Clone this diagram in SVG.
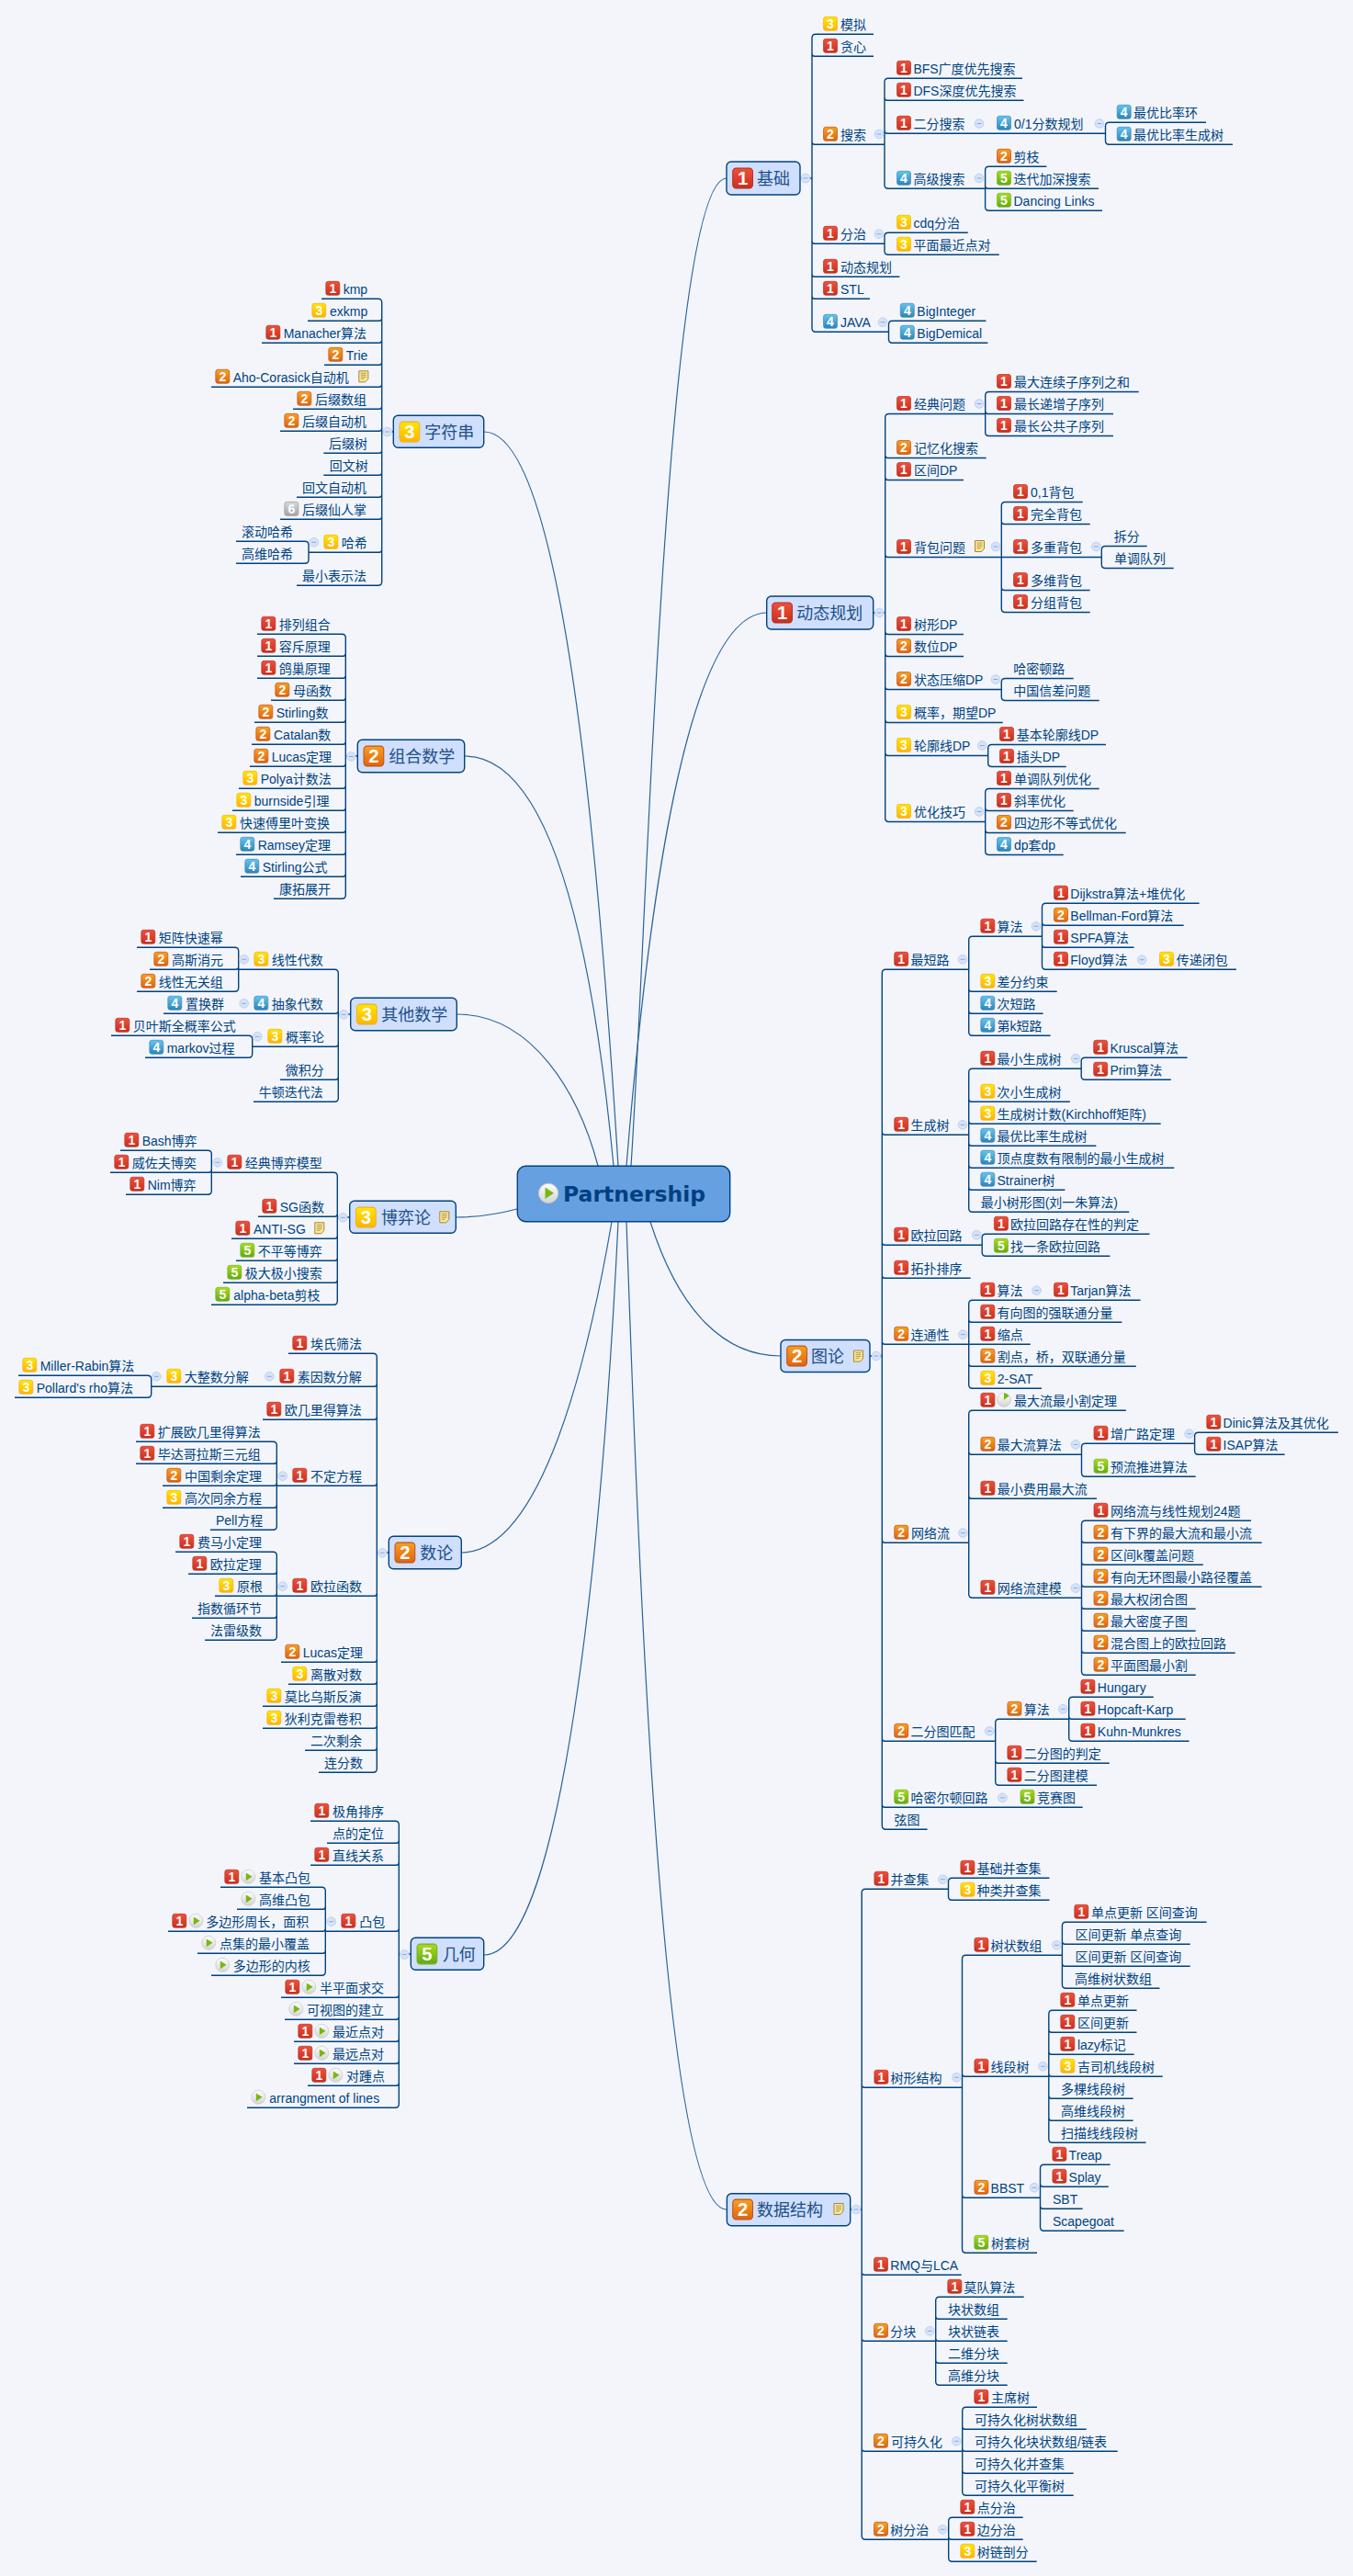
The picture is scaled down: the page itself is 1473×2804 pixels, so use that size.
<svg xmlns="http://www.w3.org/2000/svg" width="1473" height="2804" viewBox="0 0 1473 2804">
<style>
text{font-family:"Liberation Sans","Noto Sans CJK SC",sans-serif;font-size:14px;fill:#00437f}
.h{font-size:18px;fill:#1d5088}
.root{font-family:"DejaVu Sans",sans-serif;font-size:23.5px;font-weight:700;fill:#004080}
.d{font-size:14px;font-weight:700;fill:#fff;text-anchor:middle}
.t{fill:#d0dffd;stroke:#00437f;stroke-width:1.4}
.l{fill:none;stroke:#00437f;stroke-width:1.4}
.k{fill:none;stroke:#2a6398;stroke-width:1.2}
</style>
<defs>
<linearGradient id="g1" x1="0" y1="0" x2="0" y2="1"><stop offset="0" stop-color="#f0503c"/><stop offset="1" stop-color="#c8301f"/></linearGradient>
<linearGradient id="g2" x1="0" y1="0" x2="0" y2="1"><stop offset="0" stop-color="#f8a020"/><stop offset="1" stop-color="#e0640f"/></linearGradient>
<linearGradient id="g3" x1="0" y1="0" x2="0" y2="1"><stop offset="0" stop-color="#ffe600"/><stop offset="1" stop-color="#ffb400"/></linearGradient>
<linearGradient id="g4" x1="0" y1="0" x2="0" y2="1"><stop offset="0" stop-color="#66c4ee"/><stop offset="1" stop-color="#2d84b6"/></linearGradient>
<linearGradient id="g5" x1="0" y1="0" x2="0" y2="1"><stop offset="0" stop-color="#a8dc20"/><stop offset="1" stop-color="#62aa10"/></linearGradient>
<linearGradient id="g6" x1="0" y1="0" x2="0" y2="1"><stop offset="0" stop-color="#d8d8d8"/><stop offset="1" stop-color="#a4a4a4"/></linearGradient>
<linearGradient id="gy" x1="0" y1="0" x2="0" y2="1"><stop offset="0" stop-color="#fdfdfd"/><stop offset="1" stop-color="#d4d4d4"/></linearGradient>
<g id="p1"><rect x=".5" y=".5" width="15" height="15" rx="2.5" fill="url(#g1)" stroke="#b83020" stroke-width=".7"/><text x="8" y="13" class="d">1</text></g>
<g id="p2"><rect x=".5" y=".5" width="15" height="15" rx="2.5" fill="url(#g2)" stroke="#c05018" stroke-width=".7"/><text x="8" y="13" class="d">2</text></g>
<g id="p3"><rect x=".5" y=".5" width="15" height="15" rx="2.5" fill="url(#g3)" stroke="#f0b020" stroke-width=".7"/><text x="8" y="13" class="d">3</text></g>
<g id="p4"><rect x=".5" y=".5" width="15" height="15" rx="2.5" fill="url(#g4)" stroke="#3a8cc0" stroke-width=".7"/><text x="8" y="13" class="d">4</text></g>
<g id="p5"><rect x=".5" y=".5" width="15" height="15" rx="2.5" fill="url(#g5)" stroke="#78b020" stroke-width=".7"/><text x="8" y="13" class="d">5</text></g>
<g id="p6"><rect x=".5" y=".5" width="15" height="15" rx="2.5" fill="url(#g6)" stroke="#989898" stroke-width=".7"/><text x="8" y="13" class="d">6</text></g>
<g id="y"><circle cx="8" cy="8" r="7.5" fill="url(#gy)" stroke="#c4c4c4" stroke-width=".7"/><path d="M5.5 3.6L12.2 8L5.5 12.4Z" fill="#76b80e"/></g>
<g id="q"><circle cx="8" cy="8" r="7.5" fill="url(#gy)" stroke="#c4c4c4" stroke-width=".7"/><path d="M8 8V.8A7.2 7.2 0 0 1 13.6 3.6Z" fill="#76b80e"/></g>
<g id="m"><path d="M.5 .5H10.5V9L7.5 12.5H.5Z" fill="#f8e9a0" stroke="#a8862c"/><path d="M2.5 3H8.5M2.5 5H8.5M2.5 7H8.5M2.5 9H6.5" stroke="#a8862c" stroke-width=".8" fill="none"/></g>
<g id="c"><circle r="4.8" fill="#d6e3fa" stroke="#bcd0f0"/><path d="M-2.4 0H2.4" stroke="#8ea8d0" stroke-width="1"/></g>
</defs>
<rect width="1473" height="2804" fill="#f3f5fb"/>
<g id="connectors">
<path class="k" d="M687 1269C705 1000 725 194 791 194"/>
<path class="k" d="M682 1269C700 1050 740 667 835 667"/>
<path class="k" d="M708 1330C740 1430 790 1476 850 1476"/>
<path class="k" d="M682 1330C695 1700 720 2405 791 2405"/>
<path class="k" d="M673 1269C650 900 610 470 527 470"/>
<path class="k" d="M668 1269C650 1080 610 823 506 823"/>
<path class="k" d="M651 1269C630 1190 580 1104 497 1104"/>
<path class="k" d="M563 1316C540 1322 520 1325 496 1325"/>
<path class="k" d="M666 1330C640 1480 590 1690 502 1690"/>
<path class="k" d="M673 1330C660 1600 620 2128 527 2128"/>
<path class="l" d="M871 194H884M950.7 667H963.7M947 1476H960.3M925.7 2405H938.2M428.3 470H415.7M389.3 823H376.3M381.7 1104H368.3M380.7 1325H367.3M423.3 1690H410.3M447.3 2127H434.3"/>
<path class="l" d="M951 37.3H888q-4 0-4 4V357.3q0 4 4 4H967.5M884 58.3q0 3 3 3H951M884 154.3q0 3 3 3H963M884 262.3q0 3 3 3H963M884 298.3q0 3 3 3H979.4M884 322.3q0 3 3 3H947"/>
<path class="l" d="M1113 85.3H967q-4 0-4 4V201.3q0 4 4 4H1072.6M963 106.3q0 3 3 3H1114.5M963 142.3q0 3 3 3H1203.5"/>
<path class="l" d="M1313 133.3H1207.5q-4 0-4 4V153.3q0 4 4 4H1342"/>
<path class="l" d="M1139.4 181.3H1076.6q-4 0-4 4V225.3q0 4 4 4H1200M1072.6 202.3q0 3 3 3H1196"/>
<path class="l" d="M1053.7 253.3H967q-4 0-4 4V273.3q0 4 4 4H1087.7"/>
<path class="l" d="M1073.4 349.3H971.5q-4 0-4 4V369.3q0 4 4 4H1075.4"/>
<path class="l" d="M1072.7 450.5H967.7q-4 0-4 4V890.5q0 4 4 4H1072.7M963.7 495.5q0 3 3 3H1073.7M963.7 519.5q0 3 3 3H1049M963.7 603.5q0 3 3 3H1199.3M963.7 687.5q0 3 3 3H1049M963.7 711.5q0 3 3 3H1049M963.7 747.5q0 3 3 3H1090.3M963.7 783.5q0 3 3 3H1091.7M963.7 819.5q0 3 3 3H1075.7"/>
<path class="l" d="M1239.7 426.5H1076.7q-4 0-4 4V470.5q0 4 4 4H1212M1072.7 447.5q0 3 3 3H1212"/>
<path class="l" d="M1178.7 546.5H1094.3q-4 0-4 4V662.5q0 4 4 4H1186.7M1090.3 567.5q0 3 3 3H1186.7M1090.3 639.5q0 3 3 3H1186.7"/>
<path class="l" d="M1248.7 594.5H1203.3q-4 0-4 4V614.5q0 4 4 4H1277.7"/>
<path class="l" d="M1168.7 738.5H1094.3q-4 0-4 4V758.5q0 4 4 4H1196.7"/>
<path class="l" d="M1204 810.5H1079.7q-4 0-4 4V830.5q0 4 4 4H1160.7"/>
<path class="l" d="M1196.7 858.5H1076.7q-4 0-4 4V926.5q0 4 4 4H1157.7M1072.7 879.5q0 3 3 3H1168.7M1072.7 903.5q0 3 3 3H1225.7"/>
<path class="l" d="M1054.7 1055.3H964.3q-4 0-4 4V1987.3q0 4 4 4H1009.6M960.3 1232.3q0 3 3 3H1054.7M960.3 1352.3q0 3 3 3H1069.2M960.3 1388.3q0 3 3 3H1056.6M960.3 1460.3q0 3 3 3H1121.8M960.3 1676.3q0 3 3 3H1054.7M960.3 1892.3q0 3 3 3H1083.7M960.3 1964.3q0 3 3 3H1178.6"/>
<path class="l" d="M1134.5 1019.3H1058.7q-4 0-4 4V1123.3q0 4 4 4H1143.6M1054.7 1076.3q0 3 3 3H1150.7M1054.7 1100.3q0 3 3 3H1135.6"/>
<path class="l" d="M1305.6 983.3H1138.5q-4 0-4 4V1051.3q0 4 4 4H1346M1134.5 1004.3q0 3 3 3H1288.6M1134.5 1028.3q0 3 3 3H1234.5"/>
<path class="l" d="M1177.2 1163.3H1058.7q-4 0-4 4V1315.3q0 4 4 4H1229.3M1054.7 1196.3q0 3 3 3H1164.9M1054.7 1220.3q0 3 3 3H1263.7M1054.7 1244.3q0 3 3 3H1193.4M1054.7 1268.3q0 3 3 3H1278.3M1054.7 1292.3q0 3 3 3H1159.4"/>
<path class="l" d="M1292.6 1151.3H1181.2q-4 0-4 4V1171.3q0 4 4 4H1274.8"/>
<path class="l" d="M1251.5 1343.3H1073.2q-4 0-4 4V1363.3q0 4 4 4H1208.4"/>
<path class="l" d="M1241.6 1415.3H1058.7q-4 0-4 4V1507.3q0 4 4 4H1134M1054.7 1436.3q0 3 3 3H1221.4M1054.7 1484.3q0 3 3 3H1236.8"/>
<path class="l" d="M1225.8 1535.3H1058.7q-4 0-4 4V1735.3q0 4 4 4H1177.5M1054.7 1580.3q0 3 3 3H1177.5M1054.7 1628.3q0 3 3 3H1194"/>
<path class="l" d="M1300.6 1571.3H1181.5q-4 0-4 4V1603.3q0 4 4 4H1301.7"/>
<path class="l" d="M1456.9 1559.3H1304.6q-4 0-4 4V1579.3q0 4 4 4H1398.7"/>
<path class="l" d="M1362 1655.3H1181.5q-4 0-4 4V1819.3q0 4 4 4H1301.7M1177.5 1676.3q0 3 3 3H1373.6M1177.5 1700.3q0 3 3 3H1309.8M1177.5 1724.3q0 3 3 3H1373.6M1177.5 1748.3q0 3 3 3H1301.7M1177.5 1772.3q0 3 3 3H1301.7M1177.5 1796.3q0 3 3 3H1344.7"/>
<path class="l" d="M1163.7 1871.3H1087.7q-4 0-4 4V1939.3q0 4 4 4H1194M1083.7 1916.3q0 3 3 3H1207.8"/>
<path class="l" d="M1255.8 1847.3H1167.7q-4 0-4 4V1891.3q0 4 4 4H1294.6M1163.7 1868.3q0 3 3 3H1290.7"/>
<path class="l" d="M1032.5 2056.3H942.2q-4 0-4 4V2760.3q0 4 4 4H1032.7M938.2 2269.3q0 3 3 3H1047.5M938.2 2473.3q0 3 3 3H1046.7M938.2 2545.3q0 3 3 3H1018.7M938.2 2665.3q0 3 3 3H1047.7"/>
<path class="l" d="M1142.5 2044.3H1036.5q-4 0-4 4V2064.3q0 4 4 4H1142.5"/>
<path class="l" d="M1156.4 2128.3H1051.5q-4 0-4 4V2448.3q0 4 4 4H1129M1047.5 2257.3q0 3 3 3H1141.8M1047.5 2389.3q0 3 3 3H1132.5"/>
<path class="l" d="M1313.6 2092.3H1160.4q-4 0-4 4V2160.3q0 4 4 4H1262.5M1156.4 2113.3q0 3 3 3H1295.7M1156.4 2137.3q0 3 3 3H1295.7"/>
<path class="l" d="M1237.5 2188.3H1145.8q-4 0-4 4V2328.3q0 4 4 4H1247.5M1141.8 2209.3q0 3 3 3H1237.5M1141.8 2233.3q0 3 3 3H1234.6M1141.8 2257.3q0 3 3 3H1265.7M1141.8 2281.3q0 3 3 3H1233.6M1141.8 2305.3q0 3 3 3H1233.6"/>
<path class="l" d="M1208.6 2356.3H1136.5q-4 0-4 4V2424.3q0 4 4 4H1223.6M1132.5 2377.3q0 3 3 3H1206.8M1132.5 2401.3q0 3 3 3H1178.6"/>
<path class="l" d="M1114.7 2500.3H1022.7q-4 0-4 4V2592.3q0 4 4 4H1096.7M1018.7 2521.3q0 3 3 3H1096.7M1018.7 2545.3q0 3 3 3H1096.7M1018.7 2569.3q0 3 3 3H1096.7"/>
<path class="l" d="M1129 2620.3H1051.7q-4 0-4 4V2712.3q0 4 4 4H1168.7M1047.7 2641.3q0 3 3 3H1182.7M1047.7 2665.3q0 3 3 3H1216.7M1047.7 2689.3q0 3 3 3H1168.7"/>
<path class="l" d="M1113.7 2740.3H1036.7q-4 0-4 4V2784.3q0 4 4 4H1128.7M1032.7 2761.3q0 3 3 3H1113.7"/>
<path class="l" d="M350 325.3H411.7q4 0 4 4V633.3q0 4-4 4H323M415.7 346.3q0 3-3 3H335M415.7 370.3q0 3-3 3H285M415.7 394.3q0 3-3 3H353M415.7 418.3q0 3-3 3H230M415.7 442.3q0 3-3 3H319M415.7 466.3q0 3-3 3H305M415.7 490.3q0 3-3 3H352.3M415.7 514.3q0 3-3 3H352.3M415.7 538.3q0 3-3 3H323M415.7 562.3q0 3-3 3H305M415.7 598.3q0 3-3 3H336"/>
<path class="l" d="M257 589.3H332q4 0 4 4V609.3q0 4-4 4H257"/>
<path class="l" d="M280 690.3H372.3q4 0 4 4V974.3q0 4-4 4H298M376.3 711.3q0 3-3 3H280M376.3 735.3q0 3-3 3H280M376.3 759.3q0 3-3 3H295M376.3 783.3q0 3-3 3H277M376.3 807.3q0 3-3 3H274M376.3 831.3q0 3-3 3H272M376.3 855.3q0 3-3 3H260M376.3 879.3q0 3-3 3H253M376.3 903.3q0 3-3 3H237M376.3 927.3q0 3-3 3H257M376.3 951.3q0 3-3 3H262"/>
<path class="l" d="M259.7 1055.3H364.3q4 0 4 4V1195.3q0 4-4 4H276M368.3 1100.3q0 3-3 3H178M368.3 1136.3q0 3-3 3H274.7M368.3 1172.3q0 3-3 3H305"/>
<path class="l" d="M149 1031.3H255.7q4 0 4 4V1075.3q0 4-4 4H149M259.7 1052.3q0 3-3 3H163"/>
<path class="l" d="M121 1127.3H270.7q4 0 4 4V1147.3q0 4-4 4H158"/>
<path class="l" d="M230.3 1276.3H363.3q4 0 4 4V1416.3q0 4-4 4H230M367.3 1321.3q0 3-3 3H281M367.3 1345.3q0 3-3 3H252M367.3 1369.3q0 3-3 3H257M367.3 1393.3q0 3-3 3H243"/>
<path class="l" d="M131 1252.3H226.3q4 0 4 4V1296.3q0 4-4 4H137M230.3 1273.3q0 3-3 3H120"/>
<path class="l" d="M314 1473.3H406.3q4 0 4 4V1925.3q0 4-4 4H347M410.3 1506.3q0 3-3 3H164.7M410.3 1542.3q0 3-3 3H286M410.3 1614.3q0 3-3 3H301.3M410.3 1734.3q0 3-3 3H301.3M410.3 1806.3q0 3-3 3H306M410.3 1830.3q0 3-3 3H314M410.3 1854.3q0 3-3 3H286M410.3 1878.3q0 3-3 3H286M410.3 1902.3q0 3-3 3H332"/>
<path class="l" d="M20 1497.3H160.7q4 0 4 4V1517.3q0 4-4 4H16"/>
<path class="l" d="M148 1569.3H297.3q4 0 4 4V1661.3q0 4-4 4H229M301.3 1590.3q0 3-3 3H148M301.3 1614.3q0 3-3 3H177M301.3 1638.3q0 3-3 3H177"/>
<path class="l" d="M191 1689.3H297.3q4 0 4 4V1781.3q0 4-4 4H223M301.3 1710.3q0 3-3 3H205M301.3 1734.3q0 3-3 3H234M301.3 1758.3q0 3-3 3H209"/>
<path class="l" d="M338 1982.3H430.3q4 0 4 4V2290.3q0 4-4 4H269M434.3 2003.3q0 3-3 3H356M434.3 2027.3q0 3-3 3H338M434.3 2099.3q0 3-3 3H354.3M434.3 2171.3q0 3-3 3H306M434.3 2195.3q0 3-3 3H310M434.3 2219.3q0 3-3 3H320M434.3 2243.3q0 3-3 3H320M434.3 2267.3q0 3-3 3H335"/>
<path class="l" d="M240 2054.3H350.3q4 0 4 4V2146.3q0 4-4 4H230M354.3 2075.3q0 3-3 3H258M354.3 2099.3q0 3-3 3H183M354.3 2123.3q0 3-3 3H215"/>
</g>
<g id="root"><rect x="563.3" y="1269.3" width="231.4" height="60.4" rx="9" fill="#66a0e0" stroke="#00437f" stroke-width="1.4"/><use href="#y" transform="translate(585.7 1287.5) scale(1.42)"/><text class="root" x="613" y="1307.5">Partnership</text></g>
<g id="jichu">
<g id="t1"><rect class="t" x="791" y="176" width="80" height="36" rx="5"/><use href="#p1" transform="translate(797 182.4) scale(1.45)"/><text class="h" x="824" y="200.5">基础</text><use href="#c" x="877" y="194"/></g>
<g id="a1"><use href="#p3" x="896" y="17.8"/><text x="915" y="31.8">模拟</text></g>
<g id="a2"><use href="#p1" x="896" y="41.8"/><text x="915" y="55.8">贪心</text></g>
<g id="a3"><use href="#p2" x="896" y="137.8"/><text x="915" y="151.8">搜索</text><use href="#c" x="957" y="146"/></g>
<g id="a4"><use href="#p1" x="976" y="65.8"/><text x="994.4" y="79.8">BFS广度优先搜索</text></g>
<g id="a5"><use href="#p1" x="976" y="89.8"/><text x="994.4" y="103.8">DFS深度优先搜索</text></g>
<g id="a6"><use href="#p1" x="976" y="125.8"/><text x="994.4" y="139.8">二分搜索</text><use href="#c" x="1066" y="134.5"/></g>
<g id="a7"><use href="#p4" x="1085" y="125.8"/><text x="1104" y="139.8">0/1分数规划</text><use href="#c" x="1197" y="134.5"/></g>
<g id="a8"><use href="#p4" x="1215.7" y="113.8"/><text x="1234" y="127.8">最优比率环</text></g>
<g id="a9"><use href="#p4" x="1215.7" y="137.8"/><text x="1234" y="151.8">最优比率生成树</text></g>
<g id="a10"><use href="#p4" x="976" y="185.8"/><text x="994.4" y="199.8">高级搜索</text><use href="#c" x="1066" y="194"/></g>
<g id="a11"><use href="#p2" x="1085" y="161.8"/><text x="1103.5" y="175.8">剪枝</text></g>
<g id="a12"><use href="#p5" x="1085" y="185.8"/><text x="1103.5" y="199.8">迭代加深搜索</text></g>
<g id="a13"><use href="#p5" x="1085" y="209.8"/><text x="1103.5" y="223.8">Dancing Links</text></g>
<g id="a14"><use href="#p1" x="896" y="245.8"/><text x="915" y="259.8">分治</text><use href="#c" x="957" y="254.7"/></g>
<g id="a15"><use href="#p3" x="976" y="233.8"/><text x="994.4" y="247.8">cdq分治</text></g>
<g id="a16"><use href="#p3" x="976" y="257.8"/><text x="994.4" y="271.8">平面最近点对</text></g>
<g id="a17"><use href="#p1" x="896" y="281.8"/><text x="915" y="295.8">动态规划</text></g>
<g id="a18"><use href="#p1" x="896" y="305.8"/><text x="915" y="319.8">STL</text></g>
<g id="a19"><use href="#p4" x="896" y="341.8"/><text x="915" y="355.8">JAVA</text><use href="#c" x="961" y="350.7"/></g>
<g id="a20"><use href="#p4" x="979.8" y="329.8"/><text x="998.3" y="343.8">BigInteger</text></g>
<g id="a21"><use href="#p4" x="979.8" y="353.8"/><text x="998.3" y="367.8">BigDemical</text></g>
</g>
<g id="dp">
<g id="t2"><rect class="t" x="834.7" y="649" width="116" height="36" rx="5"/><use href="#p1" transform="translate(840 655.4) scale(1.45)"/><text class="h" x="867.3" y="673.5">动态规划</text><use href="#c" x="957.3" y="667"/></g>
<g id="b1"><use href="#p1" x="976" y="431"/><text x="995" y="445">经典问题</text><use href="#c" x="1066" y="439.5"/></g>
<g id="b2"><use href="#p1" x="1085" y="407"/><text x="1104" y="421">最大连续子序列之和</text></g>
<g id="b3"><use href="#p1" x="1085" y="431"/><text x="1104" y="445">最长递增子序列</text></g>
<g id="b4"><use href="#p1" x="1085" y="455"/><text x="1104" y="469">最长公共子序列</text></g>
<g id="b5"><use href="#p2" x="976" y="479"/><text x="995" y="493">记忆化搜索</text></g>
<g id="b6"><use href="#p1" x="976" y="503"/><text x="995" y="517">区间DP</text></g>
<g id="b7"><use href="#p1" x="976" y="587"/><text x="995" y="601">背包问题</text><use href="#m" x="1061" y="588"/><use href="#c" x="1084" y="595"/></g>
<g id="b8"><use href="#p1" x="1103" y="527"/><text x="1122" y="541">0,1背包</text></g>
<g id="b9"><use href="#p1" x="1103" y="551"/><text x="1122" y="565">完全背包</text></g>
<g id="b10"><use href="#p1" x="1103" y="587"/><text x="1122" y="601">多重背包</text><use href="#c" x="1193.3" y="595"/></g>
<g id="b11"><text x="1212.7" y="589">拆分</text></g>
<g id="b12"><text x="1213" y="613">单调队列</text></g>
<g id="b13"><use href="#p1" x="1103" y="623"/><text x="1122" y="637">多维背包</text></g>
<g id="b14"><use href="#p1" x="1103" y="647"/><text x="1122" y="661">分组背包</text></g>
<g id="b15"><use href="#p1" x="976" y="671"/><text x="995" y="685">树形DP</text></g>
<g id="b16"><use href="#p2" x="976" y="695"/><text x="995" y="709">数位DP</text></g>
<g id="b17"><use href="#p2" x="976" y="731"/><text x="995" y="745">状态压缩DP</text><use href="#c" x="1084" y="739.5"/></g>
<g id="b18"><text x="1103.3" y="733">哈密顿路</text></g>
<g id="b19"><text x="1103.3" y="757">中国信差问题</text></g>
<g id="b20"><use href="#p3" x="976" y="767"/><text x="995" y="781">概率，期望DP</text></g>
<g id="b21"><use href="#p3" x="976" y="803"/><text x="995" y="817">轮廓线DP</text><use href="#c" x="1069.3" y="811.5"/></g>
<g id="b22"><use href="#p1" x="1088" y="791"/><text x="1106.7" y="805">基本轮廓线DP</text></g>
<g id="b23"><use href="#p1" x="1088" y="815"/><text x="1106.7" y="829">插头DP</text></g>
<g id="b24"><use href="#p3" x="976" y="875"/><text x="995" y="889">优化技巧</text><use href="#c" x="1066" y="883.5"/></g>
<g id="b25"><use href="#p1" x="1085" y="839"/><text x="1104" y="853">单调队列优化</text></g>
<g id="b26"><use href="#p1" x="1085" y="863"/><text x="1104" y="877">斜率优化</text></g>
<g id="b27"><use href="#p2" x="1085" y="887"/><text x="1104" y="901">四边形不等式优化</text></g>
<g id="b28"><use href="#p4" x="1085" y="911"/><text x="1104" y="925">dp套dp</text></g>
</g>
<g id="graph">
<g id="t3"><rect class="t" x="850" y="1458.5" width="97" height="35" rx="5"/><use href="#p2" transform="translate(856 1464.4) scale(1.45)"/><text class="h" x="883" y="1482.5">图论</text><use href="#m" x="929" y="1469.6"/><use href="#c" x="954" y="1476"/></g>
<g id="c1"><use href="#p1" x="973.2" y="1035.8"/><text x="991.4" y="1049.8">最短路</text><use href="#c" x="1048" y="1044.3"/></g>
<g id="c2"><use href="#p1" x="1067.3" y="999.8"/><text x="1085.5" y="1013.8">算法</text><use href="#c" x="1128" y="1008.3"/></g>
<g id="c3"><use href="#p1" x="1147" y="963.8"/><text x="1165.3" y="977.8">Dijkstra算法+堆优化</text></g>
<g id="c4"><use href="#p2" x="1147" y="987.8"/><text x="1165.3" y="1001.8">Bellman-Ford算法</text></g>
<g id="c5"><use href="#p1" x="1147" y="1011.8"/><text x="1165.3" y="1025.8">SPFA算法</text></g>
<g id="c6"><use href="#p1" x="1147" y="1035.8"/><text x="1165.3" y="1049.8">Floyd算法</text><use href="#c" x="1243.2" y="1044.7"/></g>
<g id="c7"><use href="#p3" x="1262" y="1035.8"/><text x="1280.7" y="1049.8">传递闭包</text></g>
<g id="c8"><use href="#p3" x="1067.3" y="1059.8"/><text x="1085.5" y="1073.8">差分约束</text></g>
<g id="c9"><use href="#p4" x="1067.3" y="1083.8"/><text x="1085.5" y="1097.8">次短路</text></g>
<g id="c10"><use href="#p4" x="1067.3" y="1107.8"/><text x="1085.5" y="1121.8">第k短路</text></g>
<g id="c11"><use href="#p1" x="973.2" y="1215.8"/><text x="991.4" y="1229.8">生成树</text><use href="#c" x="1048" y="1224.3"/></g>
<g id="c12"><use href="#p1" x="1067.3" y="1143.8"/><text x="1085.5" y="1157.8">最小生成树</text><use href="#c" x="1171.2" y="1152.3"/></g>
<g id="c13"><use href="#p1" x="1190.2" y="1131.8"/><text x="1208.4" y="1145.8">Kruscal算法</text></g>
<g id="c14"><use href="#p1" x="1190.2" y="1155.8"/><text x="1208.4" y="1169.8">Prim算法</text></g>
<g id="c15"><use href="#p3" x="1067.3" y="1179.8"/><text x="1085.5" y="1193.8">次小生成树</text></g>
<g id="c16"><use href="#p3" x="1067.3" y="1203.8"/><text x="1085.5" y="1217.8">生成树计数(Kirchhoff矩阵)</text></g>
<g id="c17"><use href="#p4" x="1067.3" y="1227.8"/><text x="1085.5" y="1241.8">最优比率生成树</text></g>
<g id="c18"><use href="#p4" x="1067.3" y="1251.8"/><text x="1085.5" y="1265.8">顶点度数有限制的最小生成树</text></g>
<g id="c19"><use href="#p4" x="1067.3" y="1275.8"/><text x="1085.5" y="1289.8">Strainer树</text></g>
<g id="c20"><text x="1067.7" y="1313.8">最小树形图(刘一朱算法)</text></g>
<g id="c21"><use href="#p1" x="973.2" y="1335.8"/><text x="991.4" y="1349.8">欧拉回路</text><use href="#c" x="1063.3" y="1344.3"/></g>
<g id="c22"><use href="#p1" x="1081.9" y="1323.8"/><text x="1100" y="1337.8">欧拉回路存在性的判定</text></g>
<g id="c23"><use href="#p5" x="1081.9" y="1347.8"/><text x="1100" y="1361.8">找一条欧拉回路</text></g>
<g id="c24"><use href="#p1" x="973.2" y="1371.8"/><text x="991.4" y="1385.8">拓扑排序</text></g>
<g id="c25"><use href="#p2" x="973.2" y="1443.8"/><text x="991.4" y="1457.8">连通性</text><use href="#c" x="1048.4" y="1452.6"/></g>
<g id="c26"><use href="#p1" x="1067.3" y="1395.8"/><text x="1085.5" y="1409.8">算法</text><use href="#c" x="1128.5" y="1404.7"/></g>
<g id="c27"><use href="#p1" x="1147" y="1395.8"/><text x="1165.3" y="1409.8">Tarjan算法</text></g>
<g id="c28"><use href="#p1" x="1067.3" y="1419.8"/><text x="1085.5" y="1433.8">有向图的强联通分量</text></g>
<g id="c29"><use href="#p1" x="1067.3" y="1443.8"/><text x="1085.8" y="1457.8">缩点</text></g>
<g id="c30"><use href="#p2" x="1067.3" y="1467.8"/><text x="1085.8" y="1481.8">割点，桥，双联通分量</text></g>
<g id="c31"><use href="#p3" x="1067.3" y="1491.8"/><text x="1085.8" y="1505.8">2-SAT</text></g>
<g id="c32"><use href="#p2" x="973.2" y="1659.8"/><text x="992" y="1673.8">网络流</text><use href="#c" x="1048.4" y="1668.6"/></g>
<g id="c33"><use href="#p1" x="1067.4" y="1515.8"/><use href="#q" x="1085" y="1515.8"/><text x="1104" y="1529.8">最大流最小割定理</text></g>
<g id="c34"><use href="#p2" x="1067.4" y="1563.8"/><text x="1085.8" y="1577.8">最大流算法</text><use href="#c" x="1171" y="1572.4"/></g>
<g id="c35"><use href="#p1" x="1190.5" y="1551.8"/><text x="1208.9" y="1565.8">增广路定理</text><use href="#c" x="1294.6" y="1560.6"/></g>
<g id="c36"><use href="#p1" x="1313.3" y="1539.8"/><text x="1331.6" y="1553.8">Dinic算法及其优化</text></g>
<g id="c37"><use href="#p1" x="1313.3" y="1563.8"/><text x="1331.6" y="1577.8">ISAP算法</text></g>
<g id="c38"><use href="#p5" x="1190.5" y="1587.8"/><text x="1208.9" y="1601.8">预流推进算法</text></g>
<g id="c39"><use href="#p1" x="1067.4" y="1611.8"/><text x="1085.8" y="1625.8">最小费用最大流</text></g>
<g id="c40"><use href="#p1" x="1067.4" y="1719.8"/><text x="1085.8" y="1733.8">网络流建模</text><use href="#c" x="1171" y="1728.6"/></g>
<g id="c41"><use href="#p1" x="1190.5" y="1635.8"/><text x="1209" y="1649.8">网络流与线性规划24题</text></g>
<g id="c42"><use href="#p2" x="1190.5" y="1659.8"/><text x="1209" y="1673.8">有下界的最大流和最小流</text></g>
<g id="c43"><use href="#p2" x="1190.5" y="1683.8"/><text x="1209" y="1697.8">区间k覆盖问题</text></g>
<g id="c44"><use href="#p2" x="1190.5" y="1707.8"/><text x="1209" y="1721.8">有向无环图最小路径覆盖</text></g>
<g id="c45"><use href="#p2" x="1190.5" y="1731.8"/><text x="1209" y="1745.8">最大权闭合图</text></g>
<g id="c46"><use href="#p2" x="1190.5" y="1755.8"/><text x="1209" y="1769.8">最大密度子图</text></g>
<g id="c47"><use href="#p2" x="1190.5" y="1779.8"/><text x="1209" y="1793.8">混合图上的欧拉回路</text></g>
<g id="c48"><use href="#p2" x="1190.5" y="1803.8"/><text x="1209" y="1817.8">平面图最小割</text></g>
<g id="c49"><use href="#p2" x="973.2" y="1875.8"/><text x="991.6" y="1889.8">二分图匹配</text><use href="#c" x="1077.3" y="1884.3"/></g>
<g id="c50"><use href="#p2" x="1096.4" y="1851.8"/><text x="1114.7" y="1865.8">算法</text><use href="#c" x="1157.4" y="1860.3"/></g>
<g id="c51"><use href="#p1" x="1176.4" y="1827.8"/><text x="1194.8" y="1841.8">Hungary</text></g>
<g id="c52"><use href="#p1" x="1176.4" y="1851.8"/><text x="1194.8" y="1865.8">Hopcaft-Karp</text></g>
<g id="c53"><use href="#p1" x="1176.4" y="1875.8"/><text x="1194.8" y="1889.8">Kuhn-Munkres</text></g>
<g id="c54"><use href="#p1" x="1096.4" y="1899.8"/><text x="1114.7" y="1913.8">二分图的判定</text></g>
<g id="c55"><use href="#p1" x="1096.4" y="1923.8"/><text x="1114.7" y="1937.8">二分图建模</text></g>
<g id="c56"><use href="#p5" x="973.2" y="1947.8"/><text x="991.6" y="1961.8">哈密尔顿回路</text><use href="#c" x="1091.4" y="1956.8"/></g>
<g id="c57"><use href="#p5" x="1110.5" y="1947.8"/><text x="1129" y="1961.8">竞赛图</text></g>
<g id="c58"><text x="973.6" y="1985.8">弦图</text></g>
</g>
<g id="ds">
<g id="t4"><rect class="t" x="791.4" y="2387.7" width="134.3" height="35" rx="5"/><use href="#p2" transform="translate(797 2393.4) scale(1.45)"/><text class="h" x="824" y="2411.5">数据结构</text><use href="#m" x="907.5" y="2398"/><use href="#c" x="932" y="2405"/></g>
<g id="d1"><use href="#p1" x="951.4" y="2036.8"/><text x="969.6" y="2050.8">并查集</text><use href="#c" x="1026.4" y="2045.7"/></g>
<g id="d2"><use href="#p1" x="1045.4" y="2024.8"/><text x="1063.6" y="2038.8">基础并查集</text></g>
<g id="d3"><use href="#p3" x="1045.4" y="2048.8"/><text x="1063.6" y="2062.8">种类并查集</text></g>
<g id="d4"><use href="#p1" x="951.4" y="2252.8"/><text x="969.6" y="2266.8">树形结构</text><use href="#c" x="1041.4" y="2261.3"/></g>
<g id="d5"><use href="#p1" x="1060.4" y="2108.8"/><text x="1078.6" y="2122.8">树状数组</text><use href="#c" x="1150.4" y="2117.3"/></g>
<g id="d6"><use href="#p1" x="1169.3" y="2072.8"/><text x="1187.9" y="2086.8">单点更新 区间查询</text></g>
<g id="d7"><text x="1170.4" y="2110.8">区间更新 单点查询</text></g>
<g id="d8"><text x="1170.4" y="2134.8">区间更新 区间查询</text></g>
<g id="d9"><text x="1170" y="2158.8">高维树状数组</text></g>
<g id="d10"><use href="#p1" x="1060.4" y="2240.8"/><text x="1078.6" y="2254.8">线段树</text><use href="#c" x="1135.4" y="2249.3"/></g>
<g id="d11"><use href="#p1" x="1154.3" y="2168.8"/><text x="1172.9" y="2182.8">单点更新</text></g>
<g id="d12"><use href="#p1" x="1154.3" y="2192.8"/><text x="1172.9" y="2206.8">区间更新</text></g>
<g id="d13"><use href="#p1" x="1154.3" y="2216.8"/><text x="1172.9" y="2230.8">lazy标记</text></g>
<g id="d14"><use href="#p3" x="1154.3" y="2240.8"/><text x="1172.9" y="2254.8">吉司机线段树</text></g>
<g id="d15"><text x="1155" y="2278.8">多棵线段树</text></g>
<g id="d16"><text x="1155" y="2302.8">高维线段树</text></g>
<g id="d17"><text x="1155" y="2326.8">扫描线线段树</text></g>
<g id="d18"><use href="#p2" x="1060.4" y="2372.8"/><text x="1078.6" y="2386.8">BBST</text><use href="#c" x="1126" y="2381.3"/></g>
<g id="d19"><use href="#p1" x="1145.4" y="2336.8"/><text x="1163.6" y="2350.8">Treap</text></g>
<g id="d20"><use href="#p1" x="1145.4" y="2360.8"/><text x="1163.6" y="2374.8">Splay</text></g>
<g id="d21"><text x="1146" y="2398.8">SBT</text></g>
<g id="d22"><text x="1146" y="2422.8">Scapegoat</text></g>
<g id="d23"><use href="#p5" x="1060.3" y="2432.8"/><text x="1079" y="2446.8">树套树</text></g>
<g id="d24"><use href="#p1" x="951" y="2456.8"/><text x="969.3" y="2470.8">RMQ与LCA</text></g>
<g id="d25"><use href="#p2" x="951" y="2528.8"/><text x="969.3" y="2542.8">分块</text><use href="#c" x="1012.3" y="2537.3"/></g>
<g id="d26"><use href="#p1" x="1031.3" y="2480.8"/><text x="1049.3" y="2494.8">莫队算法</text></g>
<g id="d27"><text x="1032" y="2518.8">块状数组</text></g>
<g id="d28"><text x="1032" y="2542.8">块状链表</text></g>
<g id="d29"><text x="1032" y="2566.8">二维分块</text></g>
<g id="d30"><text x="1032" y="2590.8">高维分块</text></g>
<g id="d31"><use href="#p2" x="951" y="2648.8"/><text x="970" y="2662.8">可持久化</text><use href="#c" x="1041.3" y="2657.3"/></g>
<g id="d32"><use href="#p1" x="1060.3" y="2600.8"/><text x="1079" y="2614.8">主席树</text></g>
<g id="d33"><text x="1061" y="2638.8">可持久化树状数组</text></g>
<g id="d34"><text x="1061" y="2662.8">可持久化块状数组/链表</text></g>
<g id="d35"><text x="1061" y="2686.8">可持久化并查集</text></g>
<g id="d36"><text x="1061" y="2710.8">可持久化平衡树</text></g>
<g id="d37"><use href="#p2" x="951" y="2744.8"/><text x="969.3" y="2758.8">树分治</text><use href="#c" x="1026.3" y="2753.3"/></g>
<g id="d38"><use href="#p1" x="1045.3" y="2720.8"/><text x="1063.7" y="2734.8">点分治</text></g>
<g id="d39"><use href="#p1" x="1045.3" y="2744.8"/><text x="1063.7" y="2758.8">边分治</text></g>
<g id="d40"><use href="#p3" x="1045.3" y="2768.8"/><text x="1063.7" y="2782.8">树链剖分</text></g>
</g>
<g id="str">
<g id="t5"><rect class="t" x="428.3" y="452.3" width="98.4" height="35" rx="5"/><use href="#p3" transform="translate(434.3 458.4) scale(1.45)"/><text class="h" x="462.3" y="476.5">字符串</text><use href="#c" x="421.7" y="470"/></g>
<g id="e1"><use href="#p1" x="354.3" y="305.8"/><text x="373.7" y="319.8">kmp</text></g>
<g id="e2"><use href="#p3" x="339.3" y="329.8"/><text x="359" y="343.8">exkmp</text></g>
<g id="e3"><use href="#p1" x="289.3" y="353.8"/><text x="308.7" y="367.8">Manacher算法</text></g>
<g id="e4"><use href="#p2" x="357.3" y="377.8"/><text x="376.7" y="391.8">Trie</text></g>
<g id="e5"><use href="#p2" x="234.3" y="401.8"/><text x="253.7" y="415.8">Aho-Corasick自动机</text><use href="#m" x="390.3" y="403.3"/></g>
<g id="e6"><use href="#p2" x="323.3" y="425.8"/><text x="343" y="439.8">后缀数组</text></g>
<g id="e7"><use href="#p2" x="309.3" y="449.8"/><text x="329" y="463.8">后缀自动机</text></g>
<g id="e8"><text x="358" y="487.8">后缀树</text></g>
<g id="e9"><text x="358.7" y="511.8">回文树</text></g>
<g id="e10"><text x="329" y="535.8">回文自动机</text></g>
<g id="e11"><use href="#p6" x="309.3" y="545.8"/><text x="329" y="559.8">后缀仙人掌</text></g>
<g id="e12"><use href="#p3" x="352.3" y="581.8"/><text x="371.7" y="595.8">哈希</text><use href="#c" x="341.7" y="590.3"/></g>
<g id="e13"><text x="263" y="583.8">滚动哈希</text></g>
<g id="e14"><text x="263" y="607.8">高维哈希</text></g>
<g id="e15"><text x="329" y="631.8">最小表示法</text></g>
</g>
<g id="comb">
<g id="t6"><rect class="t" x="389.3" y="805.3" width="116.4" height="35.4" rx="5"/><use href="#p2" transform="translate(395.3 811.4) scale(1.45)"/><text class="h" x="423.3" y="829.5">组合数学</text><use href="#c" x="382.3" y="823.5"/></g>
<g id="f1"><use href="#p1" x="284.3" y="670.8"/><text x="303.7" y="684.8">排列组合</text></g>
<g id="f2"><use href="#p1" x="284.3" y="694.8"/><text x="303.7" y="708.8">容斥原理</text></g>
<g id="f3"><use href="#p1" x="284.3" y="718.8"/><text x="303.7" y="732.8">鸽巢原理</text></g>
<g id="f4"><use href="#p2" x="299.3" y="742.8"/><text x="319" y="756.8">母函数</text></g>
<g id="f5"><use href="#p2" x="281.3" y="766.8"/><text x="300.7" y="780.8">Stirling数</text></g>
<g id="f6"><use href="#p2" x="278.3" y="790.8"/><text x="298" y="804.8">Catalan数</text></g>
<g id="f7"><use href="#p2" x="276.3" y="814.8"/><text x="295.7" y="828.8">Lucas定理</text></g>
<g id="f8"><use href="#p3" x="264.3" y="838.8"/><text x="283.7" y="852.8">Polya计数法</text></g>
<g id="f9"><use href="#p3" x="257.3" y="862.8"/><text x="276.7" y="876.8">burnside引理</text></g>
<g id="f10"><use href="#p3" x="241.3" y="886.8"/><text x="261" y="900.8">快速傅里叶变换</text></g>
<g id="f11"><use href="#p4" x="261.3" y="910.8"/><text x="280.7" y="924.8">Ramsey定理</text></g>
<g id="f12"><use href="#p4" x="266.3" y="934.8"/><text x="285.7" y="948.8">Stirling公式</text></g>
<g id="f13"><text x="304" y="972.8">康拓展开</text></g>
</g>
<g id="other">
<g id="t7"><rect class="t" x="381.7" y="1086.3" width="115.6" height="35.4" rx="5"/><use href="#p3" transform="translate(387.7 1092.4) scale(1.45)"/><text class="h" x="415.3" y="1110.5">其他数学</text><use href="#c" x="374.3" y="1104.3"/></g>
<g id="g1n"><use href="#p3" x="276.3" y="1035.8"/><text x="295.7" y="1049.8">线性代数</text><use href="#c" x="265.7" y="1044.3"/></g>
<g id="g2n"><use href="#p1" x="153.3" y="1011.8"/><text x="172.7" y="1025.8">矩阵快速幂</text></g>
<g id="g3n"><use href="#p2" x="167.3" y="1035.8"/><text x="187" y="1049.8">高斯消元</text></g>
<g id="g4n"><use href="#p2" x="153.3" y="1059.8"/><text x="172.7" y="1073.8">线性无关组</text></g>
<g id="g5n"><use href="#p4" x="276.3" y="1083.8"/><text x="295.7" y="1097.8">抽象代数</text><use href="#c" x="265.7" y="1092.3"/></g>
<g id="g6n"><use href="#p4" x="182.3" y="1083.8"/><text x="202" y="1097.8">置换群</text></g>
<g id="g7n"><use href="#p3" x="291.3" y="1119.8"/><text x="311" y="1133.8">概率论</text><use href="#c" x="280.3" y="1128.3"/></g>
<g id="g8n"><use href="#p1" x="125.3" y="1107.8"/><text x="144.7" y="1121.8">贝叶斯全概率公式</text></g>
<g id="g9n"><use href="#p4" x="162.3" y="1131.8"/><text x="181.7" y="1145.8">markov过程</text></g>
<g id="g10n"><text x="310.7" y="1169.8">微积分</text></g>
<g id="g11n"><text x="281.7" y="1193.8">牛顿迭代法</text></g>
</g>
<g id="game">
<g id="t8"><rect class="t" x="380.7" y="1307.3" width="115.6" height="35" rx="5"/><use href="#p3" transform="translate(386.7 1313.4) scale(1.45)"/><text class="h" x="415" y="1331.5">博弈论</text><use href="#m" x="478.3" y="1318.3"/><use href="#c" x="373.3" y="1325.3"/></g>
<g id="h1"><use href="#p1" x="247.3" y="1256.8"/><text x="266.7" y="1270.8">经典博弈模型</text><use href="#c" x="236.7" y="1265.3"/></g>
<g id="h2"><use href="#p1" x="135.3" y="1232.8"/><text x="154.7" y="1246.8">Bash博弈</text></g>
<g id="h3"><use href="#p1" x="124.3" y="1256.8"/><text x="143.7" y="1270.8">威佐夫博奕</text></g>
<g id="h4"><use href="#p1" x="141.3" y="1280.8"/><text x="160.7" y="1294.8">Nim博弈</text></g>
<g id="h5"><use href="#p1" x="285.3" y="1304.8"/><text x="304.7" y="1318.8">SG函数</text></g>
<g id="h6"><use href="#p1" x="256.3" y="1328.8"/><text x="276" y="1342.8">ANTI-SG</text><use href="#m" x="342.3" y="1330.3"/></g>
<g id="h7"><use href="#p5" x="261.3" y="1352.8"/><text x="280.7" y="1366.8">不平等博弈</text></g>
<g id="h8"><use href="#p5" x="247.3" y="1376.8"/><text x="266.7" y="1390.8">极大极小搜索</text></g>
<g id="h9"><use href="#p5" x="234.3" y="1400.8"/><text x="254.3" y="1414.8">alpha-beta剪枝</text></g>
</g>
<g id="num">
<g id="t9"><rect class="t" x="423.3" y="1672.3" width="79" height="35.4" rx="5"/><use href="#p2" transform="translate(429.3 1678.4) scale(1.45)"/><text class="h" x="457.3" y="1696.5">数论</text><use href="#c" x="416.3" y="1690.3"/></g>
<g id="i1"><use href="#p1" x="318.3" y="1453.8"/><text x="338" y="1467.8">埃氏筛法</text></g>
<g id="i2"><use href="#p1" x="304.3" y="1489.8"/><text x="323.7" y="1503.8">素因数分解</text><use href="#c" x="293.3" y="1498.3"/></g>
<g id="i3"><use href="#p3" x="181.3" y="1489.8"/><text x="200.7" y="1503.8">大整数分解</text><use href="#c" x="170.3" y="1498.3"/></g>
<g id="i4"><use href="#p3" x="24.3" y="1477.8"/><text x="43.7" y="1491.8">Miller-Rabin算法</text></g>
<g id="i5"><use href="#p3" x="20.3" y="1501.8"/><text x="39.7" y="1515.8">Pollard's rho算法</text></g>
<g id="i6"><use href="#p1" x="290.3" y="1525.8"/><text x="309.7" y="1539.8">欧几里得算法</text></g>
<g id="i7"><use href="#p1" x="318.3" y="1597.8"/><text x="338" y="1611.8">不定方程</text><use href="#c" x="307.7" y="1606.7"/></g>
<g id="i8"><use href="#p1" x="152.3" y="1549.8"/><text x="171.7" y="1563.8">扩展欧几里得算法</text></g>
<g id="i9"><use href="#p1" x="152.3" y="1573.8"/><text x="171.7" y="1587.8">毕达哥拉斯三元组</text></g>
<g id="i10"><use href="#p2" x="181.3" y="1597.8"/><text x="201" y="1611.8">中国剩余定理</text></g>
<g id="i11"><use href="#p3" x="181.3" y="1621.8"/><text x="201" y="1635.8">高次同余方程</text></g>
<g id="i12"><text x="235" y="1659.8">Pell方程</text></g>
<g id="i13"><use href="#p1" x="318.3" y="1717.8"/><text x="338" y="1731.8">欧拉函数</text><use href="#c" x="307.7" y="1726.7"/></g>
<g id="i14"><use href="#p1" x="195.3" y="1669.8"/><text x="215" y="1683.8">费马小定理</text></g>
<g id="i15"><use href="#p1" x="209.3" y="1693.8"/><text x="228.7" y="1707.8">欧拉定理</text></g>
<g id="i16"><use href="#p3" x="238.3" y="1717.8"/><text x="258" y="1731.8">原根</text></g>
<g id="i17"><text x="215" y="1755.8">指数循环节</text></g>
<g id="i18"><text x="229" y="1779.8">法雷级数</text></g>
<g id="i19"><use href="#p2" x="310.3" y="1789.8"/><text x="329.7" y="1803.8">Lucas定理</text></g>
<g id="i20"><use href="#p3" x="318.3" y="1813.8"/><text x="338" y="1827.8">离散对数</text></g>
<g id="i21"><use href="#p3" x="290.3" y="1837.8"/><text x="309.7" y="1851.8">莫比乌斯反演</text></g>
<g id="i22"><use href="#p3" x="290.3" y="1861.8"/><text x="309.7" y="1875.8">狄利克雷卷积</text></g>
<g id="i23"><text x="338" y="1899.8">二次剩余</text></g>
<g id="i24"><text x="353" y="1923.8">连分数</text></g>
</g>
<g id="geo">
<g id="t10"><rect class="t" x="447.3" y="2109.3" width="79.4" height="35" rx="5"/><use href="#p5" transform="translate(453.3 2115.4) scale(1.45)"/><text class="h" x="481.7" y="2133.5">几何</text><use href="#c" x="440.3" y="2127.5"/></g>
<g id="j1"><use href="#p1" x="342.3" y="1962.8"/><text x="362" y="1976.8">极角排序</text></g>
<g id="j2"><text x="362" y="2000.8">点的定位</text></g>
<g id="j3"><use href="#p1" x="342.3" y="2010.8"/><text x="362" y="2024.8">直线关系</text></g>
<g id="j4"><use href="#p1" x="371.3" y="2082.8"/><text x="391.3" y="2096.8">凸包</text><use href="#c" x="360.7" y="2091.7"/></g>
<g id="j5"><use href="#p1" x="244.3" y="2034.8"/><use href="#y" x="262.3" y="2034.8"/><text x="282" y="2048.8">基本凸包</text></g>
<g id="j6"><use href="#y" x="262.3" y="2058.8"/><text x="282" y="2072.8">高维凸包</text></g>
<g id="j7"><use href="#p1" x="187.3" y="2082.8"/><use href="#y" x="205.3" y="2082.8"/><text x="224.3" y="2096.8">多边形周长，面积</text></g>
<g id="j8"><use href="#y" x="219.3" y="2106.8"/><text x="239" y="2120.8">点集的最小覆盖</text></g>
<g id="j9"><use href="#y" x="234.3" y="2130.8"/><text x="253.7" y="2144.8">多边形的内核</text></g>
<g id="j10"><use href="#p1" x="310.3" y="2154.8"/><use href="#y" x="328.3" y="2154.8"/><text x="348" y="2168.8">半平面求交</text></g>
<g id="j11"><use href="#y" x="314.3" y="2178.8"/><text x="334" y="2192.8">可视图的建立</text></g>
<g id="j12"><use href="#p1" x="324.3" y="2202.8"/><use href="#y" x="342.3" y="2202.8"/><text x="362" y="2216.8">最近点对</text></g>
<g id="j13"><use href="#p1" x="324.3" y="2226.8"/><use href="#y" x="342.3" y="2226.8"/><text x="362" y="2240.8">最远点对</text></g>
<g id="j14"><use href="#p1" x="339.3" y="2250.8"/><use href="#y" x="357.3" y="2250.8"/><text x="377" y="2264.8">对踵点</text></g>
<g id="j15"><use href="#y" x="273.3" y="2274.8"/><text x="293.3" y="2288.8">arrangment of lines</text></g>
</g>
</svg>
